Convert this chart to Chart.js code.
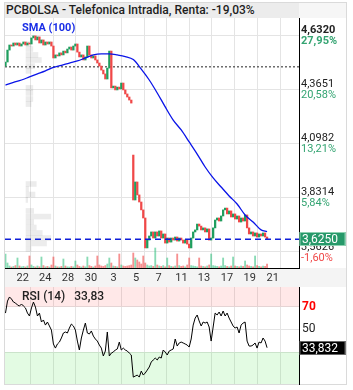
<!DOCTYPE html>
<html>
<head>
<meta charset="utf-8">
<script src="https://cdn.jsdelivr.net/npm/chart.js@4.4.0/dist/chart.umd.min.js"></script>
<style>
  html, body { margin: 0; padding: 0; background: #fff; }
  body { font-family: Roboto, "Noto Sans", sans-serif; }
  #wrap { position: relative; width: 353px; height: 390px; overflow: hidden; }
  #frame { position: absolute; left: 4px; top: 2px; width: 343px; height: 383px; box-sizing: border-box; border: 1px solid #dadada; }
  #titleBar { position: absolute; left: 5px; top: 3px; width: 294px; height: 15px; background: #ececec; }
  #titleRight { position: absolute; left: 299px; top: 3px; width: 47px; height: 15px; background: #f6f6f6; }
  #title { position: absolute; left: 6px; top: 3px; height: 15px; line-height: 15px; font-size: 12px; font-weight: 500; color: #1e1e1e; white-space: nowrap; }
  #xBand { position: absolute; left: 5px; top: 268px; width: 341px; height: 19px; background: #f4f4f4; }
  canvas { position: absolute; left: 0; }
  #main { top: 18px; }
  #rsi { top: 287px; }
  #smaLbl { position: absolute; left: 22px; top: 21px; line-height: 14px; font-size: 11px; font-weight: 700; color: #1a2ee6; }
  #rsiLbl { position: absolute; left: 22px; top: 289px; line-height: 14px; font-size: 12px; font-weight: 500; color: #222; white-space: pre; }
</style>
</head>
<body>
<div id="wrap">
  <div id="frame"></div>
  <div id="titleBar"></div>
  <div id="titleRight"></div>
  <div id="title">PCBOLSA - Telefonica Intradia, Renta: -19,03%</div>
  <div id="xBand"></div>
  <canvas id="main" width="353" height="270"></canvas>
  <canvas id="rsi" width="353" height="98"></canvas>
  <div id="smaLbl">SMA (100)</div>
  <div id="rsiLbl">RSI (14)   <span id="rsiVal"></span></div>
</div>
<script>
// x axis: candle index; day ticks sit on session boundaries
const dayLabels = ["22", "24", "28", "30", "3", "5", "7", "11", "13", "17", "19", "21"];
const dayTicks = [12.6, 23.9, 35.3, 46.8, 58.2, 69.4, 80.7, 92.1, 103.4, 114.9, 126.3, 137.8];

// right price axis
const priceTicks = [4.6320, 4.3651, 4.0982, 3.8314, 3.5626];
const pctLabels = ["27,95%", "20,58%", "13,21%", "5,84%", "-1,60%"];
const startPrice = 4.477;

const opens = [
  4.481, 4.501, 4.560, 4.585, 4.580, 4.595, 4.585, 4.595, 4.580, 4.590,
  4.600, 4.585, 4.595, 4.590, 4.620, 4.630, 4.610, 4.625, 4.595, 4.610,
  4.585, 4.600, 4.590, 4.600, 4.580, 4.521, 4.536, 4.531, 4.546, 4.536,
  4.555, 4.546, 4.565, 4.575, 4.560, 4.580, 4.590, 4.550, 4.526, 4.536,
  4.511, 4.526, 4.580, 4.536, 4.521, 4.531, 4.511, 4.496, 4.481, 4.461,
  4.442, 4.417, 4.471, 4.555, 4.373, 4.382, 4.363, 4.377, 4.368, 4.397,
  4.363, 4.343, 4.328, 4.313,
  4.041, 3.819, 3.908, 3.844, 3.809, 3.770, 3.730, 3.582, 3.621, 3.641,
  3.661, 3.631, 3.661, 3.641, 3.666, 3.631, 3.651, 3.606, 3.631, 3.611,
  3.631, 3.621, 3.636, 3.616, 3.631, 3.621, 3.606, 3.621, 3.601, 3.582,
  3.631, 3.661, 3.671, 3.700, 3.690, 3.671, 3.681, 3.661, 3.676, 3.621,
  3.631, 3.681, 3.720, 3.730, 3.715, 3.740, 3.770, 3.779, 3.750, 3.765,
  3.735, 3.750, 3.725, 3.740, 3.710, 3.730, 3.715, 3.745, 3.681, 3.651,
  3.661, 3.641, 3.656, 3.636, 3.651, 3.641, 3.656, 3.636
];
const closes = [
  4.501, 4.560, 4.585, 4.580, 4.595, 4.585, 4.595, 4.580, 4.590, 4.600,
  4.585, 4.595, 4.590, 4.620, 4.630, 4.610, 4.625, 4.595, 4.610, 4.585,
  4.600, 4.590, 4.600, 4.580, 4.521, 4.536, 4.531, 4.546, 4.536, 4.555,
  4.546, 4.565, 4.575, 4.560, 4.580, 4.590, 4.550, 4.526, 4.536, 4.511,
  4.526, 4.580, 4.536, 4.521, 4.531, 4.511, 4.496, 4.481, 4.461, 4.442,
  4.417, 4.471, 4.555, 4.373, 4.382, 4.363, 4.377, 4.368, 4.397, 4.363,
  4.343, 4.328, 4.313, 4.298,
  3.819, 3.908, 3.844, 3.809, 3.770, 3.730, 3.582, 3.621, 3.641, 3.661,
  3.631, 3.661, 3.641, 3.666, 3.631, 3.651, 3.606, 3.631, 3.611, 3.631,
  3.621, 3.636, 3.616, 3.631, 3.621, 3.606, 3.621, 3.601, 3.582, 3.631,
  3.661, 3.671, 3.700, 3.690, 3.671, 3.681, 3.661, 3.676, 3.621, 3.631,
  3.681, 3.720, 3.730, 3.715, 3.740, 3.770, 3.779, 3.750, 3.765, 3.735,
  3.750, 3.725, 3.740, 3.710, 3.730, 3.715, 3.745, 3.681, 3.651, 3.661,
  3.641, 3.656, 3.636, 3.651, 3.641, 3.656, 3.636, 3.625
];
const volumes = [
  70, 25, 10, 5, 8, 12, 50, 10, 6, 8,
  5, 10, 60, 15, 8, 5, 10, 6, 55, 12,
  6, 8, 5, 15, 55, 10, 6, 5, 8, 45,
  10, 6, 5, 8, 6, 35, 15, 8, 5, 10,
  6, 55, 12, 8, 5, 10, 60, 15, 10, 8,
  12, 20, 50, 25, 10, 8, 6, 70, 15, 10,
  8, 10, 12, 15,
  75, 50, 40, 30, 20, 60, 25, 15, 10, 12,
  8, 100, 15, 10, 8, 12, 6, 50, 12, 8,
  6, 10, 70, 12, 8, 10, 6, 15, 50, 12,
  10, 8, 6, 50, 10, 8, 6, 10, 15, 70,
  12, 10, 8, 6, 10, 50, 12, 8, 6, 10,
  55, 10, 8, 6, 10, 8, 35, 15, 10, 8,
  6, 60, 12, 8, 6, 10, 8, 20
];

// SMA(100), sampled every few candles
const smaIdx = [0, 4, 8, 12, 16, 20, 24, 28, 32, 36, 40, 44, 48, 52, 56, 60, 64,
  68, 72, 76, 80, 84, 88, 92, 96, 100, 104, 108, 112, 116, 120, 124, 128, 131];
const smaVals = [4.387, 4.400, 4.412, 4.427, 4.442, 4.457, 4.474, 4.484, 4.496, 4.506,
  4.521, 4.536, 4.541, 4.541, 4.536, 4.528, 4.513, 4.466, 4.412, 4.348, 4.279, 4.214,
  4.165, 4.106, 4.046, 3.982, 3.928, 3.883, 3.839, 3.799, 3.745, 3.710, 3.671, 3.663];

// volume-at-price profile on the left edge
const profPrices = [4.590, 4.565, 4.536, 4.511, 4.481, 4.457, 4.373, 4.348, 4.318, 4.293,
  3.898, 3.873, 3.846, 3.819, 3.765, 3.737, 3.710, 3.683, 3.656, 3.631, 3.604, 3.577];
const profVols = [60, 80, 140, 180, 100, 60, 80, 80, 80, 60,
  120, 30, 105, 20, 90, 290, 90, 120, 190, 290, 240, 60];

const rsi = [
  64.4, 75.0, 78.6, 76.8, 74.1, 73.3, 71.5, 70.6, 72.4, 70.6,
  68.9, 64.4, 61.8, 68.9, 74.1, 69.7, 61.8, 64.4, 56.5, 58.3,
  53.8, 56.5, 53.0, 49.4, 37.1, 33.5, 37.1, 38.8, 42.4, 46.8,
  47.7, 46.8, 51.2, 54.7, 53.0, 49.4, 39.7, 31.8, 42.4, 49.4,
  55.6, 46.8, 45.9, 48.6, 44.1, 41.5, 39.7, 36.2, 33.5, 26.5,
  30.9, 47.7, 26.5, 29.1, 30.0, 31.8, 32.7, 38.8, 31.8, 33.5,
  31.8, 30.9, 29.1, 27.4,
  7.9, 8.8, 9.7, 7.9, 13.2, 9.7, 11.5, 14.1, 16.8, 21.2,
  23.0, 24.7, 23.0, 25.6, 24.7, 31.8, 30.0, 27.4, 30.9, 31.8,
  32.7, 41.5, 35.3, 38.0, 38.8, 38.0, 37.1, 36.2, 34.4, 41.5,
  53.8, 60.0, 62.7, 57.4, 53.0, 56.5, 55.6, 56.5, 52.1, 39.7,
  52.1, 64.4, 62.7, 65.3, 61.8, 66.2, 61.8, 64.4, 60.0, 56.5,
  53.0, 51.2, 52.1, 46.8, 53.8, 55.6, 56.5, 39.7, 35.3, 35.3,
  36.2, 38.0, 33.5, 38.8, 38.0, 42.4, 39.7, 33.832
];
const rsiTicks = [30, 50, 70];

(function () {
  const X_MIN = -0.25, X_MAX = 147;
  const Y_MIN = 3.4828, Y_MAX = 4.7185;
  const GRID = "#e4e4e4";
  const UP = "#1f9e5e", DOWN = "#f04848";
  const FONT = "Roboto";

  function $(id) { return document.getElementById(id); }
  function comma(v, d) { return v.toFixed(d).replace(".", ","); }
  function hline(y) { return [{ x: X_MIN, y }, { x: X_MAX, y }]; }
  function tickVal(c) { return c.tick ? c.tick.value : null; }
  // no edge padding for tick labels, the chart area should fill the panel
  function noPad(width) {
    return (s) => {
      if (width != null) s.width = width;
      s.paddingTop = 0; s.paddingBottom = 0;
    };
  }

  Chart.defaults.font.family = FONT;

  // last-value tag drawn over the right axis
  const valueTag = {
    id: "valueTag",
    afterDraw(chart, args, o) {
      const ctx = chart.ctx;
      const y = Math.round(chart.scales[o.scaleId].getPixelForValue(o.value));
      const x = chart.chartArea.right + 0.5;
      ctx.save();
      ctx.fillStyle = o.bg;
      ctx.fillRect(x, y - 7, 46, 14);
      if (o.border) {
        ctx.strokeStyle = o.border;
        ctx.lineWidth = 1;
        ctx.strokeRect(x + 0.5, y - 6.5, 45, 13);
      }
      ctx.fillStyle = "#fff";
      ctx.font = "12px " + FONT;
      ctx.textBaseline = "middle";
      ctx.fillText(o.text, x + 2.5, y + 0.5);
      ctx.restore();
    },
  };

  // change-vs-start labels under each price tick
  const pctTicks = {
    id: "pctTicks",
    afterDraw(chart) {
      const ctx = chart.ctx;
      const s = chart.scales.y;
      ctx.save();
      ctx.textBaseline = "middle";
      ctx.textAlign = "left";
      priceTicks.forEach((p, i) => {
        const y = s.getPixelForValue(p) + 6;
        ctx.font = (i === 0 ? "bold " : "") + "11px " + FONT;
        ctx.fillStyle = pctLabels[i][0] === "-" ? "#f04848" : "#34a472";
        ctx.fillText(pctLabels[i], chart.chartArea.right + 2, y);
      });
      ctx.restore();
    },
  };

  const last = closes.length - 1;
  const up = closes.map((c, i) => c >= opens[i]);

  new Chart($("main"), {
    type: "bar",
    data: {
      datasets: [
        {
          type: "bar", indexAxis: "y", xAxisID: "xp", yAxisID: "y",
          data: profPrices.map((p, i) => ({ x: profVols[i], y: p })),
          backgroundColor: "rgba(0,0,0,0.075)", barThickness: 5, grouped: false, order: 6,
        },
        {
          type: "bar", yAxisID: "yv",
          data: volumes.map((v, i) => ({ x: i, y: v })),
          backgroundColor: up.map((u) => u ? "rgba(40,190,120,0.55)" : "rgba(240,70,70,0.6)"),
          barThickness: 1.2, grouped: false, order: 5,
        },
        {
          type: "line", data: hline(startPrice),
          borderColor: "#222", borderWidth: 1, borderDash: [2, 2], pointRadius: 0, order: 4,
        },
        {
          type: "bar",
          data: closes.map((c, i) => ({ x: i, y: [opens[i], c] })),
          backgroundColor: up.map((u) => u ? UP : DOWN),
          barThickness: 1.6, grouped: false, order: 3,
        },
        {
          type: "line",
          data: smaVals.map((v, i) => ({ x: smaIdx[i], y: v })),
          borderColor: "#0a14e8", borderWidth: 1.3, pointRadius: 0, cubicInterpolationMode: "monotone", order: 2,
        },
        {
          type: "line", data: hline(closes[last]),
          borderColor: "#1020d8", borderWidth: 1.3, borderDash: [6, 4], pointRadius: 0, order: 1,
        },
      ],
    },
    options: {
      responsive: false, animation: false, devicePixelRatio: 1,
      layout: { padding: { left: 5, right: 0, top: 0, bottom: 0 } },
      plugins: {
        legend: { display: false }, tooltip: { enabled: false },
        valueTag: { scaleId: "y", value: closes[last], text: comma(closes[last], 4), bg: "#27996a", border: "#8fd1b2" },
      },
      scales: {
        x: {
          type: "linear", min: X_MIN, max: X_MAX, offset: false,
          grid: { color: GRID, offset: false, drawTicks: false },
          border: { color: "#000" },
          ticks: {
            autoSkip: false, maxRotation: 0, labelOffset: -8, padding: 4, color: "#333",
            font: { size: 11 }, callback: (v, i) => dayLabels[i],
          },
          afterBuildTicks: (s) => { s.ticks = dayTicks.map((v) => ({ value: v })); },
          afterFit: (s) => { s.height = 20; s.paddingLeft = 0; s.paddingRight = 0; },
        },
        y: {
          type: "linear", position: "right", min: Y_MIN, max: Y_MAX, offset: false,
          grid: { color: GRID, offset: false, drawTicks: false },
          border: { color: "#000" },
          ticks: {
            padding: 2, labelOffset: -5, color: "#222",
            font: (c) => ({ size: 11, weight: c.index === 0 ? "bold" : "normal" }),
            callback: (v) => comma(v, 4),
          },
          afterBuildTicks: (s) => { s.ticks = priceTicks.map((v) => ({ value: v })); },
          afterFit: noPad(54),
        },
        yv: { type: "linear", display: false, min: 0, max: 1250 },
        xp: { type: "linear", display: false, min: 0, max: 2945 },
      },
    },
    plugins: [pctTicks, valueTag],
  });

  new Chart($("rsi"), {
    type: "line",
    data: {
      datasets: [
        { data: hline(70), fill: "end", backgroundColor: "rgba(250,0,0,0.09)", borderWidth: 0, pointRadius: 0, order: 3 },
        { data: hline(30), fill: "start", backgroundColor: "rgba(0,215,0,0.11)", borderWidth: 0, pointRadius: 0, order: 3 },
        {
          data: rsi.map((v, i) => ({ x: i, y: v })),
          borderColor: "#000", borderWidth: 1, pointRadius: 0, fill: false, order: 1,
        },
      ],
    },
    options: {
      responsive: false, animation: false, devicePixelRatio: 1,
      layout: { padding: { left: 5, right: 0, top: 0, bottom: 1 } },
      plugins: {
        legend: { display: false }, tooltip: { enabled: false },
        valueTag: { scaleId: "y", value: rsi[last], text: comma(rsi[last], 3), bg: "#000", border: "#666" },
      },
      scales: {
        x: {
          type: "linear", min: X_MIN, max: X_MAX, offset: false,
          grid: { color: GRID, drawTicks: false }, border: { display: false },
          ticks: { display: false },
          afterBuildTicks: (s) => { s.ticks = dayTicks.map((v) => ({ value: v })); },
          afterFit: (s) => { s.height = 0; s.paddingLeft = 0; s.paddingRight = 0; },
        },
        y: {
          type: "linear", position: "right", min: 1.8, max: 87.4,
          grid: { color: GRID, drawTicks: false },
          border: { color: "#000" },
          ticks: {
            padding: 3,
            color: (c) => tickVal(c) === 70 ? "#f00" : tickVal(c) === 30 ? "#2fa35f" : "#222",
            font: (c) => ({ size: 12, weight: tickVal(c) === 70 ? "bold" : "normal" }),
          },
          afterBuildTicks: (s) => { s.ticks = rsiTicks.map((v) => ({ value: v })); },
          afterFit: noPad(54),
        },
      },
    },
    plugins: [valueTag],
  });

  $("rsiVal").textContent = comma(rsi[last], 2);
})();
</script>
</body>
</html>
